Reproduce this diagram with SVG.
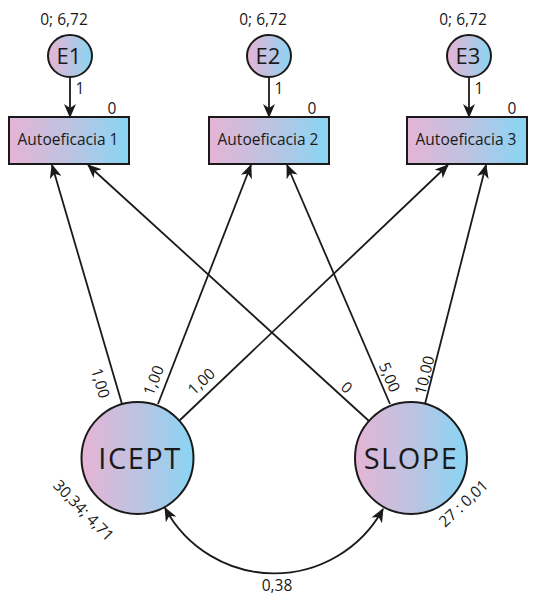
<svg xmlns="http://www.w3.org/2000/svg" width="533" height="596" viewBox="0 0 533 596">
<defs>
<linearGradient id="g" x1="0" y1="0" x2="1" y2="0">
<stop offset="0" stop-color="#e6b4d5"/>
<stop offset="0.5" stop-color="#bdc3e1"/>
<stop offset="1" stop-color="#88d5f4"/>
</linearGradient>
<marker id="ah" viewBox="0 0 14 12" markerWidth="14" markerHeight="12" refX="13" refY="6" orient="auto-start-reverse" markerUnits="userSpaceOnUse">
<path d="M0,0 L14,6 L0,12 L4,6 z" fill="#1a1a1a"/>
</marker>
<style>
.n{fill:url(#g);stroke:#1a1a1a;stroke-width:2}
.t{font-family:"Open Sans","Liberation Sans",sans-serif;fill:#1a1a1a;text-anchor:middle;dominant-baseline:central}
.s{font-size:15.5px}
.e{font-size:22px}
.b{font-size:29px;letter-spacing:1.5px}
.c{stroke:#1a1a1a;stroke-width:1.8;fill:none;marker-end:url(#ah)}
</style>
</defs>
<g id="connectors">
<line class="c" x1="70" y1="78" x2="70" y2="117"/>
<line class="c" x1="269" y1="78" x2="269" y2="117"/>
<line class="c" x1="469" y1="78" x2="469" y2="117"/>
<line class="c" x1="122" y1="404" x2="52" y2="165"/>
<line class="c" x1="158" y1="404" x2="251" y2="165"/>
<line class="c" x1="179" y1="421" x2="448" y2="165"/>
<line class="c" x1="369" y1="421" x2="88" y2="165"/>
<line class="c" x1="390" y1="404" x2="287" y2="165"/>
<line class="c" x1="425" y1="404" x2="486" y2="165"/>
<path class="c" d="M165,508 A124,124 0 0 0 383,509" marker-start="url(#ah)"/>
<text class="t s" x="80" y="88">1</text>
<text class="t s" x="279" y="88">1</text>
<text class="t s" x="479" y="88">1</text>
<text class="t s" transform="translate(101,383) rotate(73.7)">1,00</text>
<text class="t s" transform="translate(153,380) rotate(-68.7)">1,00</text>
<text class="t s" transform="translate(201,381) rotate(-43.6)">1,00</text>
<text class="t s" transform="translate(347,387) rotate(42.3)">0</text>
<text class="t s" transform="translate(390,377) rotate(66.7)">5,00</text>
<text class="t s" transform="translate(424,375) rotate(-75.7)">10,00</text>
<text class="t s" x="277" y="585">0,38</text>
</g>
<g id="E1">
<text class="t s" x="64" y="19">0; 6,72</text>
<ellipse class="n" cx="70" cy="56" rx="22" ry="21"/>
<text class="t e" x="69" y="55">E1</text>
</g>
<g id="E2">
<text class="t s" x="263" y="19">0; 6,72</text>
<ellipse class="n" cx="269" cy="56" rx="22" ry="21"/>
<text class="t e" x="268" y="55">E2</text>
</g>
<g id="E3">
<text class="t s" x="463" y="19">0; 6,72</text>
<ellipse class="n" cx="469" cy="56" rx="22" ry="21"/>
<text class="t e" x="468" y="55">E3</text>
</g>
<g id="Autoeficacia1">
<text class="t s" x="112" y="108">0</text>
<rect class="n" x="9" y="117" width="120" height="47"/>
<text class="t s" x="68" y="139">Autoeficacia 1</text>
</g>
<g id="Autoeficacia2">
<text class="t s" x="312" y="108">0</text>
<rect class="n" x="209" y="117" width="120" height="47"/>
<text class="t s" x="268" y="139">Autoeficacia 2</text>
</g>
<g id="Autoeficacia3">
<text class="t s" x="512" y="108">0</text>
<rect class="n" x="407" y="117" width="120" height="47"/>
<text class="t s" x="466" y="139">Autoeficacia 3</text>
</g>
<g id="ICEPT">
<circle class="n" cx="137.5" cy="458" r="56"/>
<text class="t b" x="140" y="457">ICEPT</text>
<text class="t s" transform="translate(84,510) rotate(45.5)">30,34; 4,71</text>
</g>
<g id="SLOPE">
<circle class="n" cx="411" cy="458" r="56"/>
<text class="t b" x="411" y="457">SLOPE</text>
<text class="t s" transform="translate(463,503) rotate(-43)">27 : 0,01</text>
</g>
</svg>
